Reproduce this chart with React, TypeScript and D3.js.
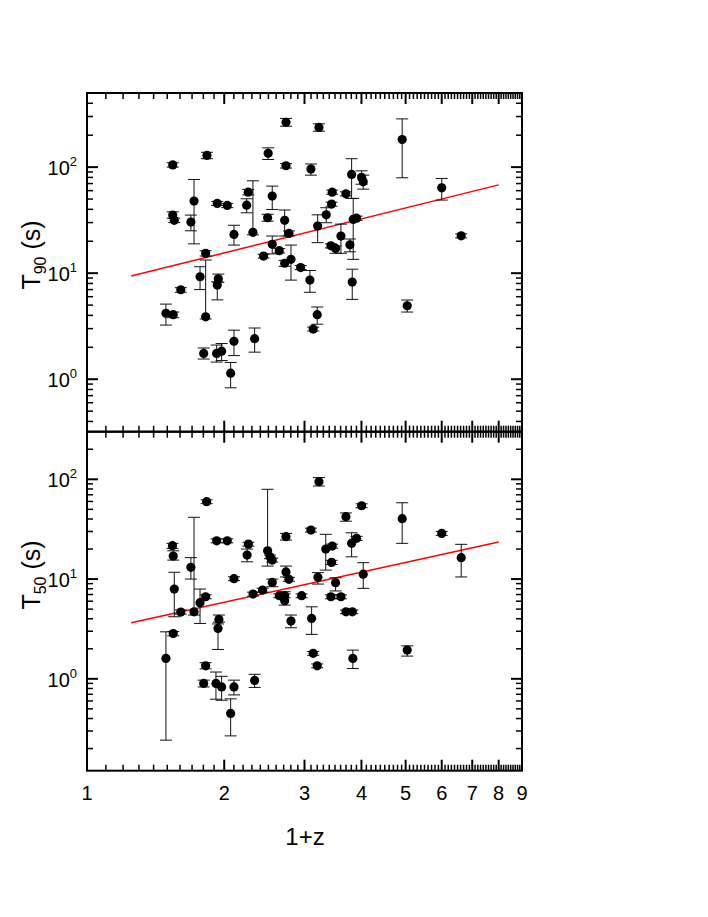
import React from 'react';
import * as d3 from 'd3';

// rows: [1+z, value, lower, upper]
const t90Points: number[][] = [
  [1.49, 4.18, 3.24, 5.11],
  [1.546, 4.06, 3.8, 4.3],
  [1.542, 105, 100, 110],
  [1.542, 35.3, 33.0, 37.9],
  [1.554, 31.5, 30, 33],
  [1.606, 6.98, 6.6, 7.3],
  [1.69, 30.3, 25.1, 35.3],
  [1.717, 47.8, 18.9, 76.5],
  [1.77, 9.25, 7.0, 11.5],
  [1.821, 15.4, 14.5, 16.3],
  [1.821, 3.88, 3.7, 13.3],
  [1.833, 129, 120, 138],
  [1.803, 1.75, 1.55, 1.97],
  [1.925, 1.75, 1.45, 2.1],
  [1.974, 1.84, 1.5, 2.17],
  [1.931, 45.5, 43.5, 47.5],
  [1.941, 8.86, 8.2, 9.8],
  [1.931, 7.72, 5.6, 8.3],
  [2.031, 43.5, 41.5, 45.5],
  [2.066, 1.14, 0.83, 1.44],
  [2.101, 23.2, 18.4, 28.3],
  [2.101, 2.28, 1.67, 2.9],
  [2.24, 43.8, 37.1, 50.3],
  [2.258, 58.1, 54.8, 61.6],
  [2.312, 24.3, 23, 74.3],
  [2.332, 2.41, 1.8, 3.04],
  [2.44, 14.5, 13.9, 15.1],
  [2.49, 33.3, 30.9, 35.9],
  [2.497, 135, 118, 152],
  [2.549, 53.3, 39.9, 66.2],
  [2.549, 18.7, 15.2, 22.4],
  [2.641, 16.3, 15.5, 17.1],
  [2.714, 31.5, 22.4, 39.4],
  [2.714, 12.4, 11.6, 13.2],
  [2.732, 265, 243, 288],
  [2.732, 103, 98, 108],
  [2.773, 23.7, 22.5, 25],
  [2.802, 13.5, 8.6, 18.4],
  [2.942, 11.3, 10.8, 11.8],
  [3.083, 8.61, 6.6, 10.6],
  [3.099, 95.8, 84, 107],
  [3.135, 2.97, 2.85, 3.1],
  [3.199, 4.06, 3.3, 4.8],
  [3.206, 27.8, 19.4, 35.5],
  [3.227, 237, 218, 256],
  [3.348, 35.5, 29.9, 41.4],
  [3.44, 44.8, 42.8, 46.8],
  [3.451, 58.1, 55.5, 60.7],
  [3.428, 18.1, 17.3, 18.9],
  [3.51, 17.1, 15.4, 18],
  [3.606, 22.4, 15.4, 29],
  [3.698, 56, 53.5, 58.5],
  [3.774, 18.5, 15.9, 21],
  [3.806, 85.4, 50.7, 120],
  [3.818, 8.24, 5.66, 10.9],
  [3.837, 32.1, 13.5, 50.7],
  [3.903, 33, 31.5, 34.5],
  [4.003, 80, 69, 92.3],
  [4.036, 72.7, 62, 84],
  [4.914, 182, 79.3, 285],
  [5.04, 4.93, 4.3, 5.58],
  [6.0, 63.8, 48.9, 78.2],
  [6.62, 22.5, 21.5, 23.5],
];

const t50Points: number[][] = [
  [1.49, 1.6, 0.243, 2.96],
  [1.54, 21.6, 20.3, 22.8],
  [1.546, 17.0, 15.5, 19.2],
  [1.554, 7.94, 4.19, 11.7],
  [1.546, 2.84, 2.7, 2.98],
  [1.606, 4.67, 4.45, 4.9],
  [1.69, 13.1, 10.0, 16.4],
  [1.717, 4.7, 4.36, 41.6],
  [1.77, 5.8, 3.59, 7.94],
  [1.821, 6.65, 6.35, 6.95],
  [1.83, 59.6, 57, 62.3],
  [1.821, 1.35, 1.26, 1.45],
  [1.803, 0.9, 0.83, 0.97],
  [1.925, 24.2, 23.1, 25.3],
  [2.031, 24.2, 23.1, 25.3],
  [1.947, 3.94, 3.7, 4.36],
  [1.938, 3.2, 1.97, 3.55],
  [1.918, 0.9, 0.625, 1.17],
  [1.974, 0.83, 0.61, 1.06],
  [2.101, 10.1, 9.65, 10.55],
  [2.101, 0.83, 0.69, 0.97],
  [2.066, 0.45, 0.268, 0.63],
  [2.26, 22.4, 21.4, 23.4],
  [2.245, 17.4, 14.9, 20.0],
  [2.314, 7.08, 6.75, 7.4],
  [2.428, 7.76, 7.4, 8.1],
  [2.332, 0.964, 0.82, 1.11],
  [2.49, 19.2, 13.5, 79.4],
  [2.52, 16.7, 16.0, 17.4],
  [2.549, 15.5, 14.8, 16.2],
  [2.549, 9.26, 8.37, 10.0],
  [2.732, 26.6, 24.6, 28.7],
  [2.732, 11.8, 10.5, 13.5],
  [2.773, 9.93, 9.5, 10.4],
  [2.641, 6.81, 6.5, 7.1],
  [2.714, 6.81, 6.5, 7.1],
  [2.714, 6.06, 5.48, 7.46],
  [2.802, 3.79, 3.25, 4.36],
  [2.957, 6.81, 6.5, 7.1],
  [3.099, 31.0, 29.6, 32.4],
  [3.11, 4.03, 2.79, 5.27],
  [3.135, 1.8, 1.72, 1.88],
  [3.199, 1.35, 1.29, 1.41],
  [3.21, 10.4, 8.91, 11.6],
  [3.227, 94.6, 85.7, 104],
  [3.34, 20.0, 12.3, 28.1],
  [3.451, 21.4, 20.4, 22.4],
  [3.44, 14.7, 14.0, 15.4],
  [3.428, 6.65, 6.35, 6.95],
  [3.606, 6.65, 6.35, 6.95],
  [3.51, 9.19, 7.6, 10.3],
  [3.698, 42.2, 38, 46],
  [3.7, 4.7, 4.5, 4.9],
  [3.82, 4.7, 4.5, 4.9],
  [3.806, 22.8, 16.7, 29.1],
  [3.903, 25.6, 24.4, 26.8],
  [3.83, 1.6, 1.27, 1.94],
  [4.003, 54.3, 51.9, 56.8],
  [4.036, 11.2, 8.07, 14.6],
  [4.914, 40.3, 22.8, 58.2],
  [5.04, 1.94, 1.69, 2.14],
  [6.0, 28.7, 27.4, 30],
  [6.62, 16.4, 10.5, 22.3],
];

// fitted power laws, drawn between the two end points
const fitT90 = [[1.25, 9.4], [8.0, 68]];
const fitT50 = [[1.25, 3.65], [8.0, 23.5]];

const xTickLabels = [1, 2, 3, 4, 5, 6, 7, 8, 9];
const yDecadesT90 = [0, 1, 2];
const yDecadesT50 = [0, 1, 2];

const FONT = 'Liberation Sans, Arial, sans-serif';
const L = 87, R = 522;

const x = d3.scaleLog().domain([1, 9]).range([L, R]);
const xMinor = d3.range(11, 90).filter(i => i % 10 !== 0).map(i => i / 10);

function yMinorTicks(domain: number[]) {
  const out: number[] = [];
  for (let d = -2; d <= 3; d++) {
    for (let m = 2; m <= 9; m++) {
      const v = m * Math.pow(10, d);
      if (v > domain[0] && v < domain[1]) out.push(v);
    }
  }
  return out;
}

const Panel = ({ top, bottom, domain, points, fit, decades, label }: any) => {
  const y = d3.scaleLog().domain(domain).range([bottom, top]);
  const line = d3.line<number[]>().x(d => x(d[0])).y(d => y(d[1]));
  const major = 11, minor = 6;
  const yMin = yMinorTicks(domain);
  return (
    <g>
      {/* x ticks, top and bottom edges, inward */}
      {xMinor.map(v => (
        <g key={'xm' + v} stroke="#000" strokeWidth={1.5}>
          <line x1={x(v)} x2={x(v)} y1={top} y2={top + minor} />
          <line x1={x(v)} x2={x(v)} y1={bottom} y2={bottom - minor} />
        </g>
      ))}
      {xTickLabels.map(v => (
        <g key={'xM' + v} stroke="#000" strokeWidth={2}>
          <line x1={x(v)} x2={x(v)} y1={top} y2={top + major} />
          <line x1={x(v)} x2={x(v)} y1={bottom} y2={bottom - major} />
        </g>
      ))}
      {/* y ticks, left and right edges */}
      {yMin.map(v => (
        <g key={'ym' + v} stroke="#000" strokeWidth={1.5}>
          <line x1={L} x2={L + minor} y1={y(v)} y2={y(v)} />
          <line x1={R} x2={R - minor} y1={y(v)} y2={y(v)} />
        </g>
      ))}
      {decades.map((d: number) => (
        <g key={'yM' + d}>
          <line x1={L} x2={L + major} y1={y(Math.pow(10, d))} y2={y(Math.pow(10, d))} stroke="#000" strokeWidth={2} />
          <line x1={R} x2={R - major} y1={y(Math.pow(10, d))} y2={y(Math.pow(10, d))} stroke="#000" strokeWidth={2} />
          <text x={77} y={y(Math.pow(10, d)) + 8} textAnchor="end" fontFamily={FONT} fontSize={20}>
            10<tspan dy={-9} fontSize={13}>{d}</tspan>
          </text>
        </g>
      ))}
      {/* fit line */}
      <path d={line(fit) || ''} stroke="#ff0000" strokeWidth={1.5} fill="none" />
      {/* error bars */}
      {points.map((p: number[], i: number) => (
        <g key={'e' + i} stroke="#111" strokeWidth={1}>
          <line x1={x(p[0])} x2={x(p[0])} y1={y(p[2])} y2={y(p[3])} />
          <line x1={x(p[0]) - 6} x2={x(p[0]) + 6} y1={y(p[2])} y2={y(p[2])} />
          <line x1={x(p[0]) - 6} x2={x(p[0]) + 6} y1={y(p[3])} y2={y(p[3])} />
        </g>
      ))}
      {points.map((p: number[], i: number) => (
        <circle key={'c' + i} cx={x(p[0])} cy={y(p[1])} r={4.6} fill="#000" />
      ))}
      <rect x={L} y={top} width={R - L} height={bottom - top} fill="none" stroke="#000" strokeWidth={2} />
      <text transform={`translate(40,${label.cy}) rotate(-90)`} textAnchor="middle" fontFamily={FONT} fontSize={25}>
        T<tspan dy={6} fontSize={16}>{label.sub}</tspan><tspan dy={-6}> (s)</tspan>
      </text>
    </g>
  );
};

export default function App() {
  return (
    <svg width={708} height={917} style={{ position: 'absolute', left: 0, top: 0, background: '#fff' }}>
      <rect width={708} height={917} fill="#fff" />
      <Panel top={93} bottom={431.7} domain={[0.32, 500]} points={t90Points} fit={fitT90}
        decades={yDecadesT90} label={{ sub: '90', cy: 255 }} />
      <Panel top={431.7} bottom={770.7} domain={[0.12, 300]} points={t50Points} fit={fitT50}
        decades={yDecadesT50} label={{ sub: '50', cy: 575 }} />
      {xTickLabels.map(v => (
        <text key={'xl' + v} x={x(v)} y={800} textAnchor="middle" fontFamily={FONT} fontSize={20}>{v}</text>
      ))}
      <text x={305} y={845} textAnchor="middle" fontFamily={FONT} fontSize={24}>1+z</text>
    </svg>
  );
}
